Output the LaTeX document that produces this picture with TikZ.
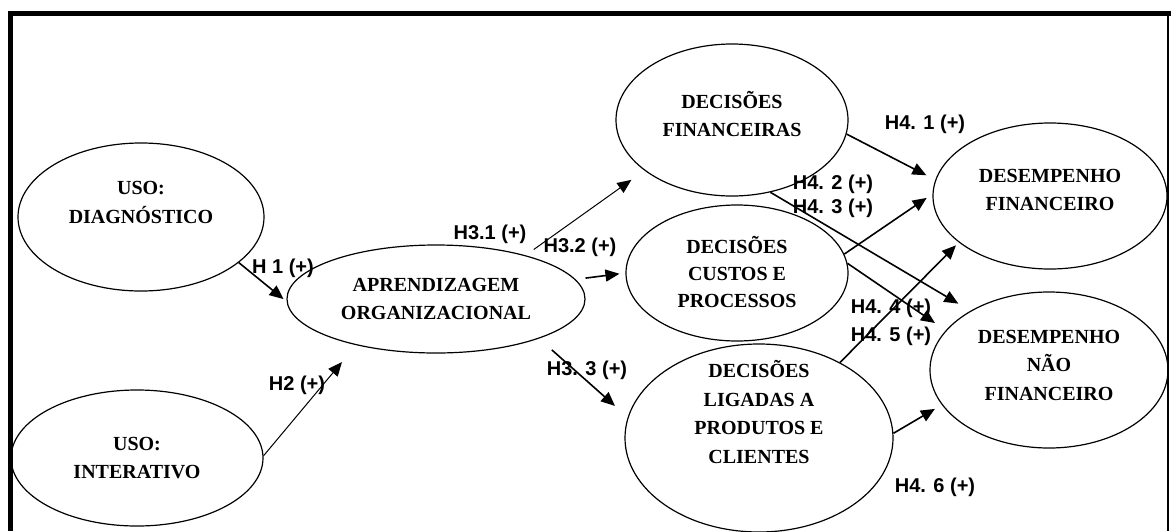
\documentclass[tikz,border=0pt]{standalone}
\usepackage{fontspec}
\setmainfont{Liberation Serif}
\newfontfamily\labelfont{Liberation Sans}
\usetikzlibrary{shapes.geometric,arrows.meta}
\begin{document}
\begin{tikzpicture}[x=1pt,y=-1pt,
  construct/.style={ellipse,draw,line width=1.2pt,inner sep=0pt},
  words/.style={align=center,inner sep=0pt,font=\fontsize{20}{28.5}\selectfont\bfseries},
  link/.style={line width=1.6pt,-{Triangle[length=14pt,width=12pt]}},
  thinlink/.style={link,line width=1pt},
  hyp/.style={font=\labelfont\fontsize{20}{22}\selectfont\bfseries,inner sep=0pt}]
\useasboundingbox (0,0) rectangle (1171,531);
% frame
\draw[line width=5pt] (8,13) -- (1171,13);
\draw[line width=5pt] (10.5,11) -- (10.5,531);
\draw[line width=1.5pt] (1168,13) -- (1168,531);

% constructs (text raised where it sits above the centre)
\node[construct,minimum width=246pt,minimum height=148pt,
  label={[words,yshift=14.5pt]center:USO:\\DIAGNÓSTICO}] (diag) at (141,217) {};
\node[construct,minimum width=298pt,minimum height=108pt,
  label={[words]center:APRENDIZAGEM\\ORGANIZACIONAL}] (apr) at (436,299) {};
\node[construct,minimum width=252pt,minimum height=136pt,
  label={[words]center:USO:\\INTERATIVO}] (inter) at (137,458) {};
\node[construct,minimum width=232pt,minimum height=152pt,
  label={[words,yshift=6pt]center:DECISÕES\\FINANCEIRAS}] (dfin) at (732,120) {};
\node[construct,minimum width=222pt,minimum height=136pt,
  label={[words,yshift=1pt,font=\fontsize{20}{27}\selectfont\bfseries]center:DECISÕES\\CUSTOS E\\PROCESSOS}] (dcust) at (737,273) {};
\node[construct,minimum width=268pt,minimum height=188pt,
  label={[words,yshift=26pt]center:DECISÕES\\LIGADAS A\\PRODUTOS E\\CLIENTES}] (dprod) at (759,438) {};
\node[construct,minimum width=234pt,minimum height=146pt,
  label={[words,yshift=6pt]center:DESEMPENHO\\FINANCEIRO}] (pfin) at (1050,196) {};
\node[construct,minimum width=238pt,minimum height=156pt,
  label={[words,yshift=5pt]center:DESEMPENHO\\NÃO\\FINANCEIRO}] (pnf) at (1049,370) {};

% hypotheses
\draw[link,shorten >=4pt] (diag.-25) -- (apr.181.5);
\draw[thinlink,shorten >=22pt] (inter.1) -- (apr.210.5);
\draw[thinlink,shorten <=10pt,shorten >=16pt] (apr.26.4) -- (dfin.210.3);
\draw[link,shorten <=10pt,shorten >=6pt] (apr.8) -- (dcust.180);
\draw[link,shorten <=17pt,shorten >=17pt] (apr.-21.6) -- (dprod.171.9);
\draw[link,shorten >=10pt] (dfin.-7) -- (pfin.172.3);
\draw[link,shorten >=14pt] (dfin.-62) -- (pnf.143.8);
\draw[link,shorten >=7pt] (dcust.10.5) -- (pfin.179);
\draw[link,shorten >=13pt] (dcust.5) -- (pnf.159.1);
\draw[link,shorten >=4pt] (dprod.43.9) -- (pfin.207.9);
\draw[link,shorten >=8pt] (dprod.2) -- (pnf.198.8);

% labels
\node[hyp] (l1) at (283,268) {H 1 (+)};
\node[hyp] (l2) at (297,385) {H2 (+)};
\node[hyp] (l31) at (490,234) {H3.1 (+)};
\node[hyp] (l32) at (580,247) {H3.2 (+)};
\node[hyp] (l33) at (587,370) {H3. 3 (+)};
\node[hyp] (l41) at (925,124) {H4. 1 (+)};
\node[hyp] (l42) at (833,184) {H4. 2 (+)};
\node[hyp] (l43) at (833,208) {H4. 3 (+)};
\node[hyp] (l44) at (891,308) {H4. 4 (+)};
\node[hyp] (l45) at (891,336) {H4. 5 (+)};
\node[hyp] (l46) at (935,487) {H4. 6 (+)};
\end{tikzpicture}
\end{document}
